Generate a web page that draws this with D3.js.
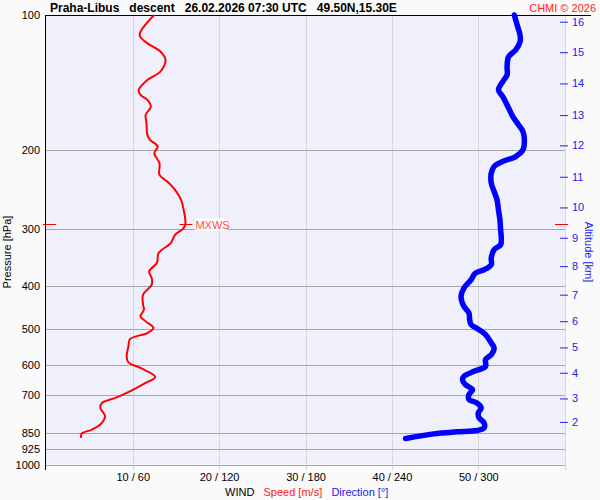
<!DOCTYPE html>
<html>
<head>
<meta charset="utf-8">
<script src="https://cdn.jsdelivr.net/npm/d3@7"></script>
<style>
body { margin: 0; background: #fafafa; }
svg text { font-family: "Liberation Sans", Arial, sans-serif; }
</style>
</head>
<body>
<svg id="chart" width="600" height="500"></svg>
<script>
// pressure levels drawn as grid lines / labels
var presTicks = [100, 200, 300, 400, 500, 600, 700, 850, 925, 1000];
// wind axis (speed m/s / direction deg share one axis)
var windTicks = [10, 20, 30, 40, 50, 60];
var windLabels = ["10 / 60", "20 / 120", "30 / 180", "40 / 240", "50 / 300", ""];

// altitude ticks on the right side (km and the pressure they sit at)
var altKm   = [2, 3, 4, 5, 6, 7, 8, 9, 10, 11, 12, 13, 14, 15, 16];
var altPres = [804, 713, 625, 549, 480, 419, 362, 313, 268, 229, 195, 167, 142, 121, 103.5];

// wind speed profile
var speedPres = [100, 110.8, 115.2, 120.6, 125.9, 133.7, 139.5, 146.8, 150.6, 154.5, 159.9, 166.8, 174.1, 184.8, 189.6,
  196.1, 203.0, 213.6, 226.8, 234.7, 244.9, 257.7, 271.3, 290.4, 297.9, 308.3, 321.7, 338.5, 356.3, 371.9,
  384.7, 398.1, 419.0, 441.0, 452.5, 468.2, 480.4, 497.0, 509.9, 525.8, 546.1, 574.7, 592.6, 609.8, 638.5,
  658.4, 683.8, 711.0, 729.4, 748.2, 781.0, 814.9, 836.0, 853.4, 872.4];
var speed = [12.5, 10.8, 11.6, 13.2, 13.8, 13.2, 11.7, 10.7, 10.9, 11.7, 12.1, 11.5, 11.6, 11.7, 12.0,
  12.9, 12.5, 13.1, 13.1, 14.0, 14.9, 15.6, 15.9, 16.1, 15.9, 14.9, 14.4, 13.0, 12.8, 11.9,
  12.2, 12.2, 11.2, 11.2, 11.3, 10.9, 11.5, 12.4, 11.7, 9.7, 9.5, 9.3, 9.5, 10.9, 12.6,
  11.5, 9.9, 8.0, 6.45, 6.25, 6.8, 6.25, 5.3, 4.1, 4.0];

// wind direction profile
var dirPres = [100, 105.3, 110.8, 114.6, 119.6, 123.8, 130.3, 135.9, 140.6, 146.8, 151.9, 158.5, 168.3, 175.6, 181.7,
  189.6, 199.5, 206.5, 211.8, 217.3, 224.8, 236.6, 247.0, 257.7, 271.3, 285.5, 300.5, 316.2, 324.4, 332.7,
  347.2, 359.4, 368.8, 375.0, 388.1, 404.9, 422.7, 444.8, 460.2, 476.1, 488.5, 501.2, 514.2, 536.5, 550.4,
  569.5, 584.3, 604.9, 620.5, 636.6, 647.5, 664.3, 681.3, 699.0, 717.1, 729.4, 748.2, 767.6, 787.4, 807.9,
  828.9, 840.3, 846.0, 854.8, 875.5];
var dir = [325, 327, 329, 329, 326, 321, 320, 320, 317, 314, 317, 320, 324, 328, 331,
  332, 331, 326, 317, 311, 309, 309, 311, 313, 314, 315, 315.5, 316, 315.5, 311,
  309, 309, 304, 298, 295, 290, 288, 290, 293.5, 294, 295, 300.5, 305, 309, 311,
  309, 305, 305, 297, 290, 289, 291, 296, 293.5, 293.5, 299, 302, 300, 300.5, 304,
  304, 299, 285, 269, 249.5];

// maximum wind
var mxwsPres = 292;
var mxwsSpeed = 16.1;

var svg = d3.select("#chart");
var pLeft = 45, pRight = 565, pTop = 15, pBottom = 464.5;

var yScale = d3.scaleLog().domain([100, 1000]).range([pTop, pBottom]);
var xScale = d3.scaleLinear().domain([0, 60]).range([46.3, 564.7]);
var dScale = d3.scaleLinear().domain([0, 360]).range([46.3, 564.7]);

svg.append("rect")
   .attr("x", pLeft).attr("y", pTop)
   .attr("width", pRight - pLeft).attr("height", pBottom - pTop)
   .attr("fill", "#f0f0fd");

// vertical grid
svg.append("g").selectAll("line")
   .data(windTicks)
   .enter().append("line")
   .attr("x1", function(d) { return Math.round(xScale(d)) + 0.5; })
   .attr("x2", function(d) { return Math.round(xScale(d)) + 0.5; })
   .attr("y1", pTop).attr("y2", 470)
   .attr("stroke", "#d8d8d8");

// horizontal grid
svg.append("g").selectAll("line")
   .data(presTicks.slice(1))
   .enter().append("line")
   .attr("x1", pLeft).attr("x2", pRight)
   .attr("y1", function(d) { return Math.round(yScale(d)) + 0.5; })
   .attr("y2", function(d) { return Math.round(yScale(d)) + 0.5; })
   .attr("stroke", "#a6a6a6");

// frame
svg.append("line").attr("x1", pLeft + 0.5).attr("x2", pLeft + 0.5).attr("y1", pTop).attr("y2", 470).attr("stroke", "#000");
svg.append("line").attr("x1", pLeft).attr("x2", 591).attr("y1", pTop + 0.5).attr("y2", pTop + 0.5).attr("stroke", "#000");

// pressure labels
var yAxis = svg.append("g")
   .attr("transform", "translate(" + pLeft + ",0)")
   .call(d3.axisLeft(yScale).tickValues(presTicks).tickFormat(d3.format("d")).tickSize(0).tickPadding(5));
yAxis.select(".domain").remove();
yAxis.selectAll("text").attr("font-size", "11px").attr("font-family", null).attr("fill", "#000");

// wind labels
var xAxis = svg.append("g")
   .attr("transform", "translate(0," + pBottom + ")")
   .call(d3.axisBottom(xScale).tickValues(windTicks).tickFormat(function(d, i) { return windLabels[i]; }).tickSize(0).tickPadding(9));
xAxis.select(".domain").remove();
xAxis.selectAll("text").attr("font-size", "11px").attr("font-family", null).attr("fill", "#000");

// altitude axis
var altAxis = svg.append("g")
   .attr("transform", "translate(560,0)")
   .call(d3.axisRight(yScale).tickValues(altPres).tickFormat(function(d, i) { return altKm[i]; }).tickSize(8).tickPadding(4));
altAxis.select(".domain").remove();
altAxis.selectAll("line").attr("stroke", "#2020f0");
altAxis.selectAll("text").attr("font-size", "11px").attr("font-family", null).attr("fill", "#2020f0");

// profiles
var speedLine = d3.line()
   .curve(d3.curveCatmullRom)
   .x(function(d, i) { return xScale(d); })
   .y(function(d, i) { return yScale(speedPres[i]); });
var dirLine = d3.line()
   .curve(d3.curveCatmullRom)
   .x(function(d, i) { return dScale(d); })
   .y(function(d, i) { return yScale(dirPres[i]); });

svg.append("path")
   .datum(dir)
   .attr("d", dirLine)
   .attr("fill", "none")
   .attr("stroke", "#0000ff")
   .attr("stroke-width", 5.5)
   .attr("stroke-linecap", "round")
   .attr("stroke-linejoin", "round");

svg.append("path")
   .datum(speed)
   .attr("d", speedLine)
   .attr("fill", "none")
   .attr("stroke", "#ff0000")
   .attr("stroke-width", 2);

// max wind marker
var my = Math.round(yScale(mxwsPres)) + 0.5;
var mx = xScale(mxwsSpeed);
svg.append("line").attr("x1", 43).attr("x2", 56).attr("y1", my).attr("y2", my).attr("stroke", "#ff0000");
svg.append("line").attr("x1", 555).attr("x2", 568).attr("y1", my).attr("y2", my).attr("stroke", "#ff0000");
svg.append("line").attr("x1", mx - 6).attr("x2", mx + 7).attr("y1", my).attr("y2", my).attr("stroke", "#ff0000");
svg.append("rect").attr("x", mx + 10).attr("y", my - 6).attr("width", 32).attr("height", 12).attr("fill", "#ffffff");
svg.append("text")
   .attr("x", mx + 10).attr("y", my + 4)
   .attr("font-size", "11px")
   .attr("fill", "#ff4a4a")
   .text("MXWS");

// titles
svg.append("text")
   .attr("x", 50).attr("y", 12)
   .attr("font-size", "12px")
   .attr("font-weight", "bold")
   .style("white-space", "pre")
   .text("Praha-Libus   descent   26.02.2026 07:30 UTC   49.50N,15.30E");
svg.append("text")
   .attr("x", 596).attr("y", 12)
   .attr("text-anchor", "end")
   .attr("font-size", "11px")
   .attr("fill", "#ff2020")
   .text("CHMI \u00a9 2026");

svg.append("text")
   .attr("transform", "translate(11,252) rotate(-90)")
   .attr("text-anchor", "middle")
   .attr("font-size", "11px")
   .text("Pressure [hPa]");
svg.append("text")
   .attr("transform", "translate(585,252) rotate(90)")
   .attr("text-anchor", "middle")
   .attr("font-size", "11px")
   .attr("fill", "#2020f0")
   .text("Altitude [km]");

var foot = svg.append("text").attr("x", 225).attr("y", 496).attr("font-size", "11px").style("white-space", "pre");
foot.append("tspan").attr("fill", "#000").text("WIND   ");
foot.append("tspan").attr("fill", "#ff2020").text("Speed [m/s]   ");
foot.append("tspan").attr("fill", "#2020f0").text("Direction [\u00b0]");
</script>
</body>
</html>
